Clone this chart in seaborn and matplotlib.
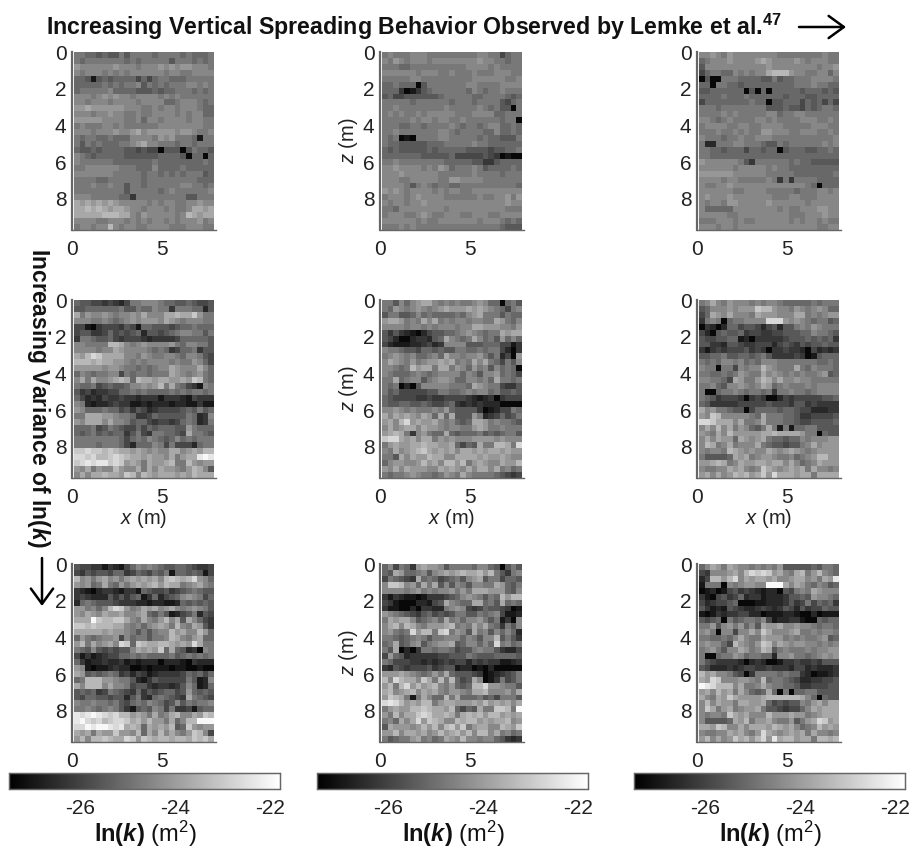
import numpy as np
import seaborn as sns
import matplotlib.pyplot as plt
from matplotlib.patches import FancyArrowPatch

# grey level of each cell, 0 = black .. f = white
# rows run from the top of the panel, groups of five only to help counting
low_a = """77665 65575 77776 77776 76667
76777 77776 76777 77577 76767
98888 88988 87888 98989 98887
87888 78787 88888 87887 78888
66515 65666 64646 77666 77777
66666 76767 78576 76777 88787
67777 78666 65556 56677 76767
88878 98988 78888 78787 77777
88788 87888 87888 86678 88767
99a99 99998 88778 78878 88766
88878 89887 78778 88878 78866
99999 88887 78688 78888 78877
78777 88787 77777 88888 88877
88878 88988 9a899 99989 98778
76776 67666 88887 98977 76177
75767 66677 89a88 77767 76777
65565 66665 54544 05550 57665
87656 66665 55555 66665 06606
87777 77666 66667 66666 66676
77888 88877 76668 66667 66666
88888 88777 77677 67676 77756
77776 67777 77677 77777 77666
77787 78775 77677 77778 87767
77777 77775 77777 67877 77778
88877 77766 37777 77777 55777
a9a9a 9a988 88878 78877 88988
aabab a9aa9 88788 87877 8aa9a
aaaaa bbbaa 87988 88878 ba9aa
88887 78887 87878 87878 88978
78878 8b878 87788 88777 88877""".split("\n")

low_b = """78777 88877 77777 77887 74677
87987 88878 88888 88988 77677
77766 77777 77777 88887 87777
88888 87888 77877 78777 88877
77777 88777 77777 78888 88778
66766 60577 77777 88777 78888
66630 13567 77777 68767 78777
56445 55555 67777 76677 77656
77777 67777 77677 76777 75467
77877 77777 78777 77876 75507
78787 78788 88877 78888 66777
77777 87887 88778 77777 76770
77766 77677 77876 77678 86676
77877 77777 88767 77766 86676
76701 07777 88777 77676 65557
76655 55566 67777 78776 66666
65655 55565 66666 55554 55667
66666 66555 55644 44454 30100
77877 77777 76666 65533 56666
88988 88787 98677 78756 66676
88898 88888 77777 78777 76777
88877 88888 77998 88877 77777
88887 57876 77667 77777 77776
98987 88887 87887 78888 88888
78887 89888 87777 77877 88979
87887 88988 88888 88888 88988
77688 88888 87888 88888 88777
78887 78987 78887 78887 78888
88888 87877 88888 88788 87676
77787 87777 77777 77777 76555""".split("\n")

low_c = """88987 98888 88887 77777 77877
67888 98888 9a988 88987 88877
58888 88888 88988 88888 87889
46776 68787 88abb b9887 78868
05007 77666 65575 66777 88887
66077 66566 66666 66777 87766
55666 66605 06066 66656 66565
66667 66676 66666 56665 56666
46666 66667 66055 66646 56464
77767 77777 77555 65546 56776
77778 78777 77886 77887 77777
88767 87777 88787 77788 87787
78888 77887 78888 77777 88877
77787 78787 79988 87788 87787
87776 77877 88877 77777 77778
72277 78877 76557 67777 77878
77665 66646 65660 56665 56676
77666 66666 66666 66666 66666
98888 88753 77777 76766 55555
88888 87888 88787 76666 66666
99999 98888 88777 77666 66667
88887 88777 77873 73777 76666
87788 98888 88888 88887 60666
88888 87788 88777 77677 78878
89888 98888 88877 78877 78888
87887 99888 88988 88887 88888
86666 68888 88887 87788 89988
88888 77888 88888 87778 88988
77788 87877 88888 87878 87877
88878 87888 88888 88888 87788""".split("\n")

mid_a = """65544 34324 77888 76655 65445
55666 66675 57668 77377 76625
a7988 98788 98a88 8aaba ac977
88877 87678 98999 8a987 88877
44103 44435 41665 55456 67666
45533 46454 56255 45678 87757
37765 56434 44323 33346 66665
88777 7bba8 78988 88976 88775
88887 88a98 88876 76346 67355
a9bdc aaaa8 87987 78876 88754
bbbab aa998 78788 88787 79864
99999 89987 76767 88a98 88a86
68767 78847 67767 77a98 78976
8a7a8 89aba 6baa9 aa99a 9cb76
76674 56556 88989 b7a76 43187
53423 34466 76766 66767 67767
64232 43343 32333 13332 14333
87212 23433 11212 22122 11311
98666 76645 35423 44445 65756
77aaa 99877 63346 55555 76238
98aaa 8a887 56643 44346 76237
66674 57654 46465 66655 97666
65675 65663 57437 76654 a7765
77777 77764 67687 65686 76777
77776 77764 26668 74744 42677
ccdcc bcbaa 9a989 88aa8 9a9bb
ddcdb bcdcb aa9a9 98a79 aaefe
cdede ecdc9 a97a9 9ab77 b9899
98a79 88b98 8a7a8 a9987 9ba85
8a8aa baa9c b8ba9 aaa9a 9baaa""".split("\n")

mid_b = """77586 89aa8 78787 78986 60675
76987 89878 9a999 a9a98 76478
57755 68676 66676 89a77 75766
9aa97 87a8a 78788 78877 a9768
88887 88787 88878 8aa99 98879
53532 10245 56678 98767 7a9aa
54200 23325 6a876 7a867 59686
42111 22342 38888 55566 64413
87765 54665 65577 66767 74203
78987 86678 6a887 88975 72409
8a987 97899 a9a78 7a8a7 64758
88767 b9aa7 aa798 69785 86760
87666 78767 88886 87588 96764
77a67 88578 99866 88786 a7767
76702 05888 88777 6a987 74335
75644 44455 77667 87886 75565
65444 43343 34444 32123 03444
65566 55654 45632 32322 20000
88987 87778 79655 55301 24476
a8a9a 98a96 a6a55 59723 46457
9a8bd 9a99a 87865 6aa97 87765
8a89a a8a99 87887 79a97 78777
9aba7 38976 6a656 66756 56775
cdda9 a8aa7 98988 89999 89888
79a99 aabaa 99a64 65a77 bba7d
87a89 abca9 a9a8a a9a9a a9a99
775a8 a99ba a88aa aa9a9 9a988
68998 89b9a 8bb9b 79a98 8a99b
98a8a 99988 a9a98 a8aa8 a7867
76778 98776 7987a 87777 65434""".split("\n")

mid_c = """78a87 98887 87887 66666 76777
56888 98999 cbb98 87987 89866
46a98 a8887 a9998 88aa7 87899
37870 67788 88ddd 98987 67756
03202 66455 42452 55787 98777
42056 55634 43344 55566 87765
54455 66120 33333 45556 56563
55332 55433 44424 54354 55655
31343 44453 43033 43320 42323
55667 55665 67533 33430 15666
76768 87867 68887 77777 76676
87707 74878 8b987 77a76 87776
77667 67987 7a898 78787 78956
88776 4a977 9ba8a 88988 77777
77865 88987 8a967 87778 78888
70067 78767 76737 78776 78888
76534 44303 43002 43444 44556
65333 33444 44544 43553 43333
a8977 65504 66665 66544 22233
98cb8 88887 6a777 66533 44445
ddcaa a8a77 8a777 66544 55556
8a8b8 a7986 57a71 71667 75555
987a8 b9999 9aaba aaa97 70655
8a8a9 96a98 9a766 56687 88899
8ba78 a7888 a7655 45578 a8999
87887 ba989 88a98 9a987 89999
75555 6a9a7 89987 78678 9bb99
99aba 78a99 aa9aa 8a867 8a999
87788 a9a87 8ca98 9a9a7 a8878
9a8a8 9bab9 ac9da aa9aa 7aaaa""".split("\n")

high_a = """54433 13214 68787 65566 54334
43545 54663 46546 57166 56514
b8979 a8979 a9a9a 8bcba bd986
98967 a7697 9a9ab 9baa7 89a87
32102 33213 31654 45345 67655
34322 25353 56136 24568 98746
26765 55433 32212 21126 56565
99786 8bdc9 78a9a 89a87 89875
98a98 a99a8 89a65 75124 57254
aaafc bbcca 87a87 9b8a5 a8643
ccbcb bbaa8 78689 a97b8 7a953
aaaaa 9a998 75757 88b9a 88b96
69767 88948 67757 78ba8 79a66
9b7a8 9a8dc 6cbaa bba9a 9da77
76585 45455 8a9a9 c6a65 23087
41312 34466 76766 66756 76767
63122 32231 21222 02221 03222
98101 12322 00101 11011 00100
a9565 67634 24312 33334 65646
67bbb 99877 52135 44444 75128
a8bbb 8a887 45532 33235 86126
56563 47654 36354 56645 96565
54665 54552 57326 76543 a7654
87787 76754 67687 64585 76778
77876 78753 15658 74733 41566
edefe dcdbb 9a97a 78ab8 8a9cb
efdcd bcddc ab9b9 97a68 bbfff
ddfef fedea ba6a9 a9b56 c9899
a9a7a 99c99 8b6a8 b8a87 9cb84
9b8bb cbaad c9cba bbabb acbca""".split("\n")

high_b = """68476 39a99 85777 76886 50575
65a96 67858 9a9ab aab9b 75378
47654 3a676 45675 89a57 74665
8ccb8 96a7a 58587 58877 a9657
88887 89787 88979 7aaa9 99658
31321 10133 34568 98757 6b9bb
43100 02214 5a876 6aa67 5a676
31100 20332 27898 43465 54301
98765 43564 54577 55767 84112
7a9aa 85678 6a786 88975 71308
8ab8b a8799 9ab78 7a8a7 63758
89767 d9bb7 cd798 5a785 86862
77656 78757 78886 87588 b5753
67a56 89578 99a56 88686 d7867
75a02 03776 77645 57877 53224
49652 33333 44555 76555 66665
76444 33232 34344 24343 31123
32543 44453 45512 20102 00000
999a9 87679 7a655 54301 23457
b8dba a8ca7 b7b64 5a801 37457
9b7bd 9b9ab 87965 6bbd9 98775
ab89a b8a9a 87998 7aab8 8897a
9cba7 17a86 6b7a6 66756 47775
dedb9 a9bb7 9aa99 9a9b9 a9a8a
79a99 bbcba a9b64 65a77 ccb7f
97b8a acdca aba7a bab9b b9a9a
786a8 ad9cb a88ba bb9a9 aab89
5a999 89b9b 8bc9c 79aa8 8ba9c
99b8a a9a89 b9ab9 b8bb8 a7867
75677 9a786 7a98b 88788 65323""".split("\n")

high_c = """68a97 a9887 87879 55555 65776
43888 9a8bd cdc9a 87ab7 9b876
24bb9 bd8a9 aa9a8 89aa8 97a9e
17770 87899 88fff a8a97 68756
01201 45343 21220 54787 a9888
31045 34623 31222 35565 98876
42344 56000 11222 35347 46563
53121 54322 34323 54253 44655
10132 33442 20111 22100 20111
54560 75677 68412 23310 06566
77958 97968 5a99a 88988 76776
89708 8488a 8ca88 89a77 87887
77667 68a87 7a999 78787 78956
89886 4b987 9cb8a 98998 87878
78975 88a97 8ba57 87778 78899
70067 79867 76628 89776 78989
75433 33202 32001 33433 43555
54222 32344 33433 32442 32223
b9a88 75403 77776 76632 01123
a9dc8 88998 7b677 65422 33445
fedbb b8a77 8a877 66533 44455
9a8b9 a7a86 56a60 70667 75555
a87a9 ca999 9abbb bbba8 60655
8b8a9 97aa9 9a645 45587 9a8aa
8ca79 a7899 a7554 34468 a9aaa
87887 ca9a8 88b99 9a997 89aaa
85555 6a9b7 99a87 79579 adc9a
aa9cb 88a8a aa9ba 9a867 8b9a9
87788 a9a87 9da98 9a9a7 a8878
9b8a8 9cab9 bd9ea bb9aa 7bbab""".split("\n")

panels = [[low_a, low_b, low_c], [mid_a, mid_b, mid_c], [high_a, high_b, high_c]]

x_ticks = [0, 5]
z_ticks = [0, 2, 4, 6, 8]
cbar_ticks = [-26, -24, -22]
vmin, vmax = -27.5, -21.8
dx, dz = 0.31, 0.323

W, H = 913, 848
col_left = [74, 382, 699]
row_top = [52, 300, 564]
cbar_left = [9, 317, 634]
panel_w, panel_h = 140, 178

sns.set_theme(style="white")
plt.rcParams['font.family'] = ['Liberation Sans', 'DejaVu Sans']
plt.rcParams['mathtext.fontset'] = 'custom'
plt.rcParams['mathtext.rm'] = 'Liberation Sans'
plt.rcParams['mathtext.it'] = 'Liberation Sans:italic'
plt.rcParams['mathtext.bf'] = 'Liberation Sans:bold'
plt.rcParams['mathtext.bfit'] = 'Liberation Sans:italic:bold'

fig = plt.figure(figsize=(W / 100, H / 100), dpi=100)


def box(left, top, w, h):
    return [left / W, 1 - (top + h) / H, w / W, h / H]


def to_lnk(rows):
    # middle of each of the 16 grey bins
    grid = [[int(c, 16) for c in r.replace(" ", "")] for r in rows]
    return vmin + (np.array(grid) + 0.5) / 16 * (vmax - vmin)


for i in range(3):
    for j in range(3):
        ax = fig.add_axes(box(col_left[j] - 2, row_top[i], panel_w + 4, panel_h))
        if i == 2:
            cax = fig.add_axes(box(cbar_left[j], 773, 271, 16))
            kw = {"cbar": True, "cbar_ax": cax, "cbar_kws": {"orientation": "horizontal"}}
        else:
            kw = {"cbar": False}
        sns.heatmap(to_lnk(panels[i][j]), ax=ax, cmap="gray", vmin=vmin, vmax=vmax,
                    xticklabels=False, yticklabels=False, **kw)
        ax.set_xlim(-0.36, 25.36)
        ax.set_ylim(30, 0)
        ax.set_xticks([t / dx - 0.36 for t in x_ticks])
        ax.set_xticklabels(x_ticks)
        ax.set_yticks([t / dz for t in z_ticks])
        ax.set_yticklabels(z_ticks, rotation=0)
        ax.tick_params(length=0, labelsize=15, labelcolor="#222222")
        ax.tick_params(axis="x", pad=7)
        ax.tick_params(axis="y", pad=4)
        for s in ["left", "bottom"]:
            ax.spines[s].set_visible(True)
            ax.spines[s].set_color("#666666")
        ax.spines["left"].set_linewidth(1.6)
        ax.spines["bottom"].set_linewidth(1.0)
        if j == 1:
            ax.set_ylabel(r"$\mathit{z}$ (m)", fontsize=14.5, color="#222222", labelpad=2)
        if i == 1:
            ax.set_xlabel(r"$\mathit{x}$ (m)", fontsize=14.5, color="#222222", labelpad=0)
        if i == 2:
            cax.set_xticks(cbar_ticks)
            cax.set_xticklabels(cbar_ticks)
            cax.tick_params(direction="in", length=3, width=0.6, color="#444444", top=True,
                            bottom=True, labelsize=15, labelcolor="#222222", pad=7)
            cax.xaxis.set_major_formatter(plt.FuncFormatter(lambda v, p: "%d" % v))
            for s in cax.spines.values():
                s.set_visible(True)
                s.set_color("#666666")
                s.set_linewidth(0.9)
            fig.text((cbar_left[j] + 136) / W, 1 - 834 / H,
                     r"$\mathbf{ln(}\mathbfit{k}\mathbf{)}$ (m$^2$)",
                     fontsize=17, ha="center", va="center", color="#111111")

fig.text(46 / W, 1 - 27 / H,
         r"Increasing Vertical Spreading Behavior Observed by Lemke et al.$\mathbf{^{47}}$",
         fontsize=16.7, fontweight="bold", ha="left", va="center", color="#111111")
fig.text(38 / W, 1 - 398 / H, r"Increasing Variance of ln($\mathbfit{k}$)",
         fontsize=16.5, fontweight="bold", rotation=-90, ha="center", va="center", color="#111111")

arrow_kw = dict(arrowstyle="->,head_length=11,head_width=8", lw=1.8, color="black",
                transform=fig.transFigure, shrinkA=0, shrinkB=0)
fig.add_artist(FancyArrowPatch((799 / W, 1 - 27 / H), (846 / W, 1 - 27 / H), **arrow_kw))
fig.add_artist(FancyArrowPatch((42 / W, 1 - 558 / H), (42 / W, 1 - 606 / H), **arrow_kw))

fig.savefig("out.png", dpi=100, facecolor="white")
